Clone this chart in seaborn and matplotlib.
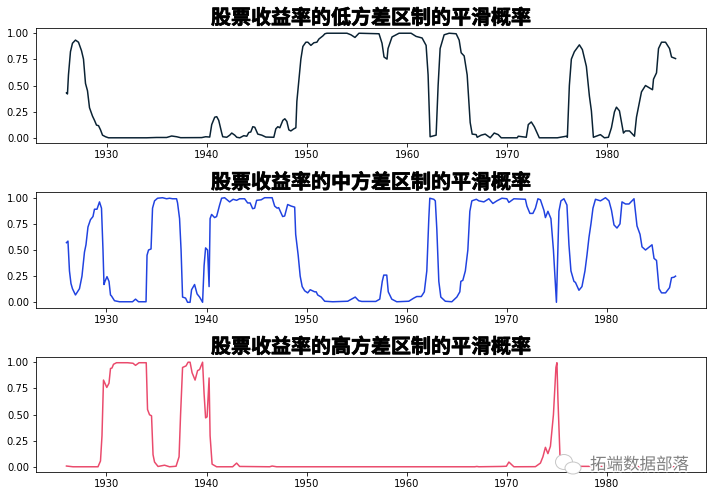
import matplotlib
matplotlib.use('Agg')

import matplotlib.pyplot as plt
import matplotlib.patheffects as pe
from matplotlib.patches import Ellipse
import seaborn as sns

plt.rcParams['font.family'] = ['DejaVu Sans', 'Noto Sans CJK SC']
plt.rcParams['axes.unicode_minus'] = False

# === Values ===
low_years = [1926.0, 1926.1, 1926.2, 1926.4, 1926.6, 1926.9, 1927.2, 1927.5, 1927.7, 1927.9,
             1928.1, 1928.3, 1928.6, 1928.8, 1929.0, 1929.2, 1929.4, 1929.6, 1929.9, 1930.2,
             1934.0, 1935.0, 1936.0, 1936.5, 1937.0, 1937.4, 1939.5, 1939.9, 1940.3, 1940.5,
             1940.8, 1941.0, 1941.2, 1941.5, 1941.6, 1942.0, 1942.3, 1942.5, 1942.8, 1943.0,
             1943.3, 1943.7, 1944.0, 1944.2, 1944.4, 1944.6, 1944.8, 1945.1, 1945.5, 1945.9,
             1946.5, 1946.7, 1946.9, 1947.1, 1947.3, 1947.6, 1947.8, 1948.0, 1948.2, 1948.4,
             1948.7, 1948.9, 1949.0, 1949.2, 1949.4, 1949.6, 1949.9, 1950.1, 1950.4, 1950.7,
             1951.0, 1951.2, 1951.6, 1951.8, 1952.0, 1954.0, 1954.4, 1954.8, 1955.2, 1957.2,
             1957.5, 1957.7, 1958.0, 1958.1, 1958.5, 1959.2, 1960.4, 1960.9, 1961.5, 1961.9,
             1962.1, 1962.3, 1962.9, 1963.1, 1963.3, 1963.7, 1964.2, 1964.9, 1965.2, 1965.4,
             1965.7, 1966.0, 1966.3, 1966.5, 1966.9, 1967.0, 1967.4, 1967.8, 1968.3, 1968.7,
             1969.1, 1969.4, 1971.0, 1971.1, 1971.9, 1972.1, 1972.4, 1972.7, 1973.2, 1975.0,
             1975.9, 1976.0, 1976.2, 1976.4, 1976.7, 1977.2, 1977.5, 1977.9, 1978.2, 1978.4,
             1978.6, 1979.3, 1979.7, 1980.1, 1980.4, 1980.7, 1980.9, 1981.2, 1981.6, 1981.8,
             1982.2, 1982.7, 1982.9, 1983.4, 1983.8, 1984.5, 1984.6, 1984.9, 1985.1, 1985.4,
             1985.8, 1986.2, 1986.4, 1986.8]
low_probs = [0.43, 0.42, 0.60, 0.82, 0.90, 0.93, 0.91, 0.83, 0.75, 0.52,
             0.45, 0.29, 0.21, 0.17, 0.125, 0.12, 0.08, 0.03, 0.015, 0.005,
             0.005, 0.008, 0.008, 0.022, 0.015, 0.006, 0.007, 0.015, 0.012, 0.13,
             0.20, 0.205, 0.17, 0.05, 0.015, 0.01, 0.03, 0.05, 0.03, 0.01,
             0.005, 0.025, 0.02, 0.055, 0.06, 0.11, 0.105, 0.04, 0.03, 0.012,
             0.01, 0.01, 0.09, 0.11, 0.10, 0.17, 0.185, 0.16, 0.08, 0.07,
             0.09, 0.10, 0.35, 0.55, 0.75, 0.87, 0.91, 0.91, 0.88, 0.905,
             0.91, 0.94, 0.97, 0.99, 0.995, 0.995, 0.98, 0.955, 0.995, 0.99,
             0.90, 0.77, 0.75, 0.85, 0.96, 0.995, 0.995, 0.965, 0.95, 0.88,
             0.60, 0.015, 0.03, 0.50, 0.85, 0.98, 0.995, 0.99, 0.93, 0.81,
             0.78, 0.60, 0.15, 0.04, 0.035, 0.01, 0.03, 0.04, 0.005, 0.05,
             0.035, 0.005, 0.005, 0.02, 0.01, 0.13, 0.155, 0.11, 0.005, 0.005,
             0.02, 0.01, 0.50, 0.75, 0.82, 0.885, 0.84, 0.68, 0.40, 0.26,
             0.01, 0.035, 0.005, 0.01, 0.10, 0.25, 0.295, 0.26, 0.05, 0.07,
             0.07, 0.02, 0.20, 0.44, 0.50, 0.46, 0.56, 0.62, 0.85, 0.91,
             0.91, 0.85, 0.77, 0.755]

mid_years = [1926.0, 1926.15, 1926.3, 1926.45, 1926.6, 1926.9, 1927.3, 1927.55, 1927.8, 1927.95, 1928.15,
             1928.4, 1928.65, 1928.8, 1929.05, 1929.3, 1929.5, 1929.65, 1929.75, 1929.85, 1930.05,
             1930.25, 1930.4, 1930.5, 1930.8, 1931.3, 1932.6, 1932.9, 1933.2, 1933.95, 1934.05,
             1934.2, 1934.45, 1934.6, 1934.8, 1935.1, 1935.6, 1936.0, 1936.3, 1936.6, 1937.0,
             1937.1, 1937.3, 1937.45, 1937.6, 1937.9, 1938.1, 1938.35, 1938.5, 1938.8, 1939.05,
             1939.3, 1939.6, 1939.75, 1939.9, 1940.1, 1940.25, 1940.35, 1940.5, 1940.8, 1941.0,
             1941.3, 1941.5, 1941.8, 1942.3, 1942.65, 1943.0, 1943.3, 1943.8, 1944.1, 1944.35,
             1944.6, 1944.8, 1945.0, 1945.45, 1945.8, 1946.55, 1946.8, 1947.05, 1947.2, 1947.6,
             1947.8, 1948.1, 1948.45, 1948.8, 1948.9, 1949.15, 1949.35, 1949.55, 1949.8, 1950.1,
             1950.35, 1950.8, 1950.95, 1951.1, 1951.45, 1951.8, 1952.6, 1954.1, 1954.85, 1955.2,
             1955.5, 1956.9, 1957.3, 1957.55, 1957.7, 1958.0, 1958.15, 1958.5, 1959.0, 1960.2,
             1960.7, 1961.0, 1961.45, 1961.75, 1962.0, 1962.2, 1962.3, 1962.7, 1962.85, 1963.0,
             1963.2, 1963.4, 1963.85, 1964.5, 1965.0, 1965.3, 1965.4, 1965.6, 1965.85, 1966.1,
             1966.3, 1966.5, 1966.95, 1967.2, 1967.7, 1968.2, 1968.6, 1969.0, 1969.5, 1970.0,
             1970.2, 1970.7, 1971.85, 1972.0, 1972.3, 1972.6, 1972.85, 1973.1, 1973.35, 1973.7,
             1973.85, 1974.1, 1974.4, 1974.65, 1974.95, 1975.2, 1975.4, 1975.7, 1976.0, 1976.2,
             1976.4, 1976.7, 1976.85, 1977.2, 1977.5, 1977.8, 1978.0, 1978.2, 1978.4, 1978.6,
             1978.85, 1979.35, 1979.85, 1980.2, 1980.45, 1980.7, 1981.0, 1981.3, 1981.5, 1981.85,
             1982.2, 1982.7, 1983.0, 1983.3, 1983.5, 1983.85, 1984.5, 1984.7, 1984.95, 1985.2,
             1985.45, 1985.85, 1986.25, 1986.45, 1986.7, 1986.85]
mid_probs = [0.57, 0.585, 0.30, 0.18, 0.13, 0.07, 0.13, 0.25, 0.48, 0.55, 0.72,
             0.79, 0.82, 0.89, 0.89, 0.96, 0.90, 0.50, 0.17, 0.20, 0.245,
             0.20, 0.07, 0.06, 0.015, 0.005, 0.005, 0.03, 0.005, 0.005, 0.45,
             0.50, 0.51, 0.90, 0.97, 0.995, 1.0, 0.99, 0.995, 0.99, 0.99,
             0.95, 0.80, 0.50, 0.05, 0.04, 0.0, 0.0, 0.12, 0.17, 0.08,
             0.05, 0.0, 0.35, 0.52, 0.50, 0.15, 0.80, 0.84, 0.81, 0.82,
             0.93, 0.995, 1.0, 0.96, 0.985, 0.975, 0.99, 0.99, 0.95, 0.95,
             0.895, 0.90, 0.975, 0.98, 1.0, 1.0, 0.92, 0.90, 0.905, 0.82,
             0.825, 0.935, 0.92, 0.91, 0.65, 0.45, 0.25, 0.15, 0.11, 0.09,
             0.12, 0.10, 0.10, 0.07, 0.05, 0.01, 0.005, 0.01, 0.05, 0.015,
             0.008, 0.008, 0.03, 0.20, 0.26, 0.26, 0.10, 0.03, 0.005, 0.01,
             0.04, 0.055, 0.055, 0.10, 0.30, 0.80, 0.995, 0.985, 0.97, 0.70,
             0.20, 0.05, 0.01, 0.005, 0.05, 0.10, 0.20, 0.21, 0.30, 0.50,
             0.87, 0.97, 0.985, 0.97, 0.96, 0.99, 0.945, 0.97, 0.995, 0.99,
             0.955, 0.99, 0.985, 0.92, 0.85, 0.85, 0.90, 0.99, 0.98, 0.88,
             0.81, 0.87, 0.80, 0.50, 0.0, 0.87, 0.97, 0.99, 0.93, 0.55,
             0.30, 0.20, 0.19, 0.115, 0.15, 0.30, 0.45, 0.62, 0.75, 0.90,
             0.985, 0.97, 1.0, 0.97, 0.88, 0.74, 0.71, 0.75, 0.96, 0.94,
             0.94, 0.99, 0.73, 0.65, 0.53, 0.50, 0.55, 0.42, 0.40, 0.13,
             0.09, 0.09, 0.14, 0.235, 0.24, 0.25]

high_years = [1926.0, 1926.65, 1929.15, 1929.4, 1929.55, 1929.7, 1930.03, 1930.25, 1930.4, 1930.55,
              1930.7, 1931.0, 1932.1, 1932.65, 1932.9, 1933.25, 1933.97, 1934.1, 1934.3, 1934.5,
              1934.65, 1934.8, 1935.15, 1935.8, 1936.3, 1936.95, 1937.25, 1937.4, 1937.6, 1937.95,
              1938.15, 1938.35, 1938.55, 1938.85, 1939.1, 1939.3, 1939.6, 1939.75, 1939.9, 1940.05,
              1940.25, 1940.35, 1940.55, 1941.0, 1942.6, 1943.0, 1943.3, 1946.3, 1946.55, 1947.0,
              1966.8, 1967.0, 1967.2, 1969.4, 1969.95, 1970.2, 1970.7, 1972.85, 1973.35, 1973.6,
              1973.85, 1974.1, 1974.35, 1974.65, 1974.9, 1975.0, 1975.1, 1975.3, 1975.5, 1986.85]
high_probs = [0.012, 0.005, 0.005, 0.06, 0.30, 0.83, 0.76, 0.80, 0.94, 0.945,
              0.98, 0.995, 0.995, 0.99, 0.97, 0.995, 0.995, 0.55, 0.50, 0.49,
              0.12, 0.05, 0.008, 0.02, 0.005, 0.01, 0.10, 0.50, 0.95, 0.965,
              1.0, 1.0, 0.90, 0.83, 0.92, 0.93, 1.0, 0.70, 0.47, 0.48,
              0.85, 0.30, 0.03, 0.005, 0.005, 0.04, 0.008, 0.005, 0.012, 0.005,
              0.005, 0.008, 0.005, 0.008, 0.01, 0.05, 0.005, 0.006, 0.04, 0.10,
              0.19, 0.13, 0.20, 0.50, 0.95, 0.995, 0.65, 0.12, 0.01, 0.005]

titles = ['股票收益率的低方差区制的平滑概率',
          '股票收益率的中方差区制的平滑概率',
          '股票收益率的高方差区制的平滑概率']
colors = ['#0a2233', '#2042e0', '#ea4a6c']
year_ticks = [1930, 1940, 1950, 1960, 1970, 1980]

# === Figure ===
fig, axes = plt.subplots(3, 1, figsize=(712 / 72, 496 / 72), dpi=72)
fig.subplots_adjust(left=36 / 712, right=706 / 712, top=1 - 28 / 496, bottom=1 - 472 / 496, hspace=0.43)

series = [(low_years, low_probs), (mid_years, mid_probs), (high_years, high_probs)]
for ax, (years, probs), title, color in zip(axes, series, titles, colors):
    sns.lineplot(x=years, y=probs, ax=ax, color=color, linewidth=1.5, estimator=None)
    ax.set_xticks(year_ticks)
    ax.set_yticks([0, 0.25, 0.5, 0.75, 1.0], ['0.00', '0.25', '0.50', '0.75', '1.00'])
    ax.tick_params(labelsize=10)
    ax.set_title(title, fontsize=20, fontweight='bold', pad=2, family=['Noto Sans CJK SC', 'DejaVu Sans'],
                 path_effects=[pe.withStroke(linewidth=0.7, foreground='black')])

# === Watermark ===
halo = [pe.withStroke(linewidth=3, foreground='white')]
fig.text(590 / 712, 1 - 465 / 496, '拓端数据部落', fontsize=16.5, color='#808080',
         family=['Noto Sans CJK SC', 'DejaVu Sans'], va='center', ha='left', path_effects=halo, zorder=10)
for cx, cy, w, h in [(564, 462, 17, 15), (573, 468, 16, 12)]:
    fig.add_artist(Ellipse((cx / 712, 1 - cy / 496), w / 712, h / 496, facecolor='white',
                           edgecolor='#c8c8c8', linewidth=1, transform=fig.transFigure, zorder=9))

fig.savefig('out.png', dpi=72)
